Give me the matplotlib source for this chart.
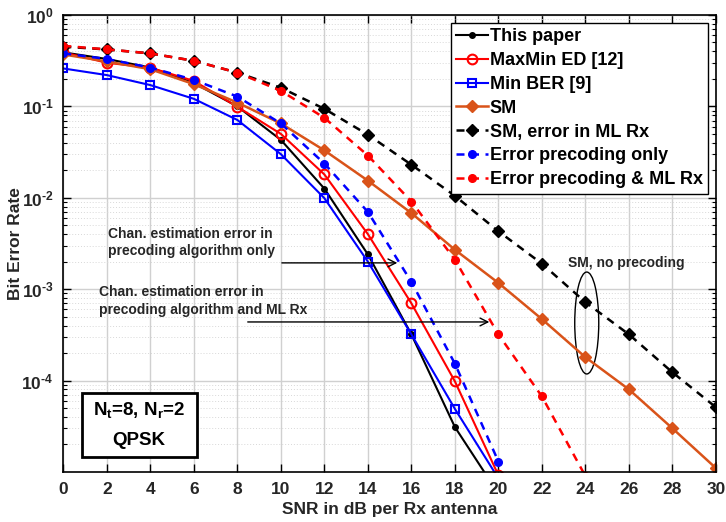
import matplotlib
matplotlib.use("Agg")
import matplotlib.pyplot as plt
import numpy as np
from matplotlib.patches import Ellipse, Rectangle
from matplotlib.ticker import LogLocator, NullFormatter

plt.rcParams['font.family'] = ['Liberation Sans', 'DejaVu Sans']
plt.rcParams['mathtext.fontset'] = 'custom'
plt.rcParams['mathtext.rm'] = 'Liberation Sans:bold'
plt.rcParams['mathtext.it'] = 'Liberation Sans:bold'
plt.rcParams['mathtext.bf'] = 'Liberation Sans:bold'

snr20 = [0, 2, 4, 6, 8, 10, 12, 14, 16, 18, 20]
snr24 = [0, 2, 4, 6, 8, 10, 12, 14, 16, 18, 20, 22, 24]
snr30 = [0, 2, 4, 6, 8, 10, 12, 14, 16, 18, 20, 22, 24, 26, 28, 30]

this_paper = [0.39, 0.33, 0.266, 0.18, 0.10, 0.043, 0.0126, 0.0024, 3.2e-4, 3.1e-5, 5.8e-6]
maxmin_ed = [0.39, 0.30, 0.265, 0.19, 0.099, 0.050, 0.018, 0.0040, 7.0e-4, 9.8e-5, 9.2e-6]
min_ber = [0.26, 0.22, 0.171, 0.121, 0.071, 0.030, 0.0099, 0.0020, 3.2e-4, 4.9e-5, 8.5e-6]
sm = [0.37, 0.31, 0.255, 0.175, 0.11, 0.065, 0.033, 0.0154, 0.0068, 0.0027, 0.00117,
      4.7e-4, 1.8e-4, 8.0e-5, 3.0e-5, 1.1e-5]
sm_err_ml = [0.45, 0.42, 0.38, 0.315, 0.234, 0.16, 0.094, 0.049, 0.023, 0.0105, 0.0043,
             0.0019, 7.2e-4, 3.2e-4, 1.23e-4, 5.1e-5]
err_prec_only = [0.38, 0.33, 0.266, 0.195, 0.128, 0.065, 0.0237, 0.0070, 0.0012, 1.53e-4, 1.3e-5]
err_prec_ml = [0.46, 0.42, 0.38, 0.315, 0.234, 0.148, 0.075, 0.029, 0.0091, 0.0021, 3.2e-4, 6.7e-5, 9e-6]

labels = ['This paper', 'MaxMin ED [12]', 'Min BER [9]', 'SM', 'SM, error in ML Rx',
          'Error precoding only', 'Error precoding & ML Rx']
ytick_vals = [1e-4, 1e-3, 1e-2, 1e-1, 1e0]
ytick_labels = ['$10^{\u20104}$', '$10^{\u20103}$', '$10^{\u20102}$', '$10^{\u20101}$', '$10^{0}$']
orange = '#D95319'

fig = plt.figure(figsize=(7.26, 5.22), dpi=100)
ax = fig.add_axes([0.0872, 0.0958, 0.8990, 0.8755])

ax.plot(snr20, this_paper, '-', color='black', lw=1.5, marker='o', ms=4, label=labels[0])
ax.plot(snr20, maxmin_ed, '-', color='red', lw=1.5, marker='o', ms=7, mfc='none', mew=1.5, label=labels[1])
ax.plot(snr20, min_ber, '-', color='blue', lw=1.5, marker='s', ms=5.5, mfc='none', mew=1.5, label=labels[2])
ax.plot(snr30, sm, '-', color=orange, lw=1.8, marker='D', ms=6, label=labels[3])
ax.plot(snr30, sm_err_ml, '--', color='black', lw=1.8, marker='D', ms=6, dashes=(3.2, 2.6), label=labels[4])
ax.plot(snr20, err_prec_only, '--', color='blue', lw=1.8, marker='o', ms=5.5, dashes=(3.2, 2.6), label=labels[5])
ax.plot(snr24, err_prec_ml, '--', color='red', lw=1.8, marker='o', ms=5.5, dashes=(3.2, 2.6), label=labels[6])

ax.set_yscale('log')
ax.set_xlim(0, 30)
ax.set_ylim(1e-5, 1)
ax.set_xticks(np.arange(0, 31, 2))
ax.set_yticks(ytick_vals)
ax.set_yticklabels(ytick_labels)
ax.yaxis.set_minor_locator(LogLocator(base=10, subs=np.arange(2, 10), numticks=20))
ax.yaxis.set_minor_formatter(NullFormatter())

ax.grid(True, which='major', color='#d0d0d0', lw=1.0, ls='-')
ax.grid(True, which='minor', axis='y', color='#d8d8d8', lw=0.7, ls=(0, (1, 2)))
ax.set_axisbelow(True)

ax.tick_params(which='both', direction='in', top=True, right=True)
ax.tick_params(which='major', length=6, width=1.0, labelsize=12.5, pad=7)
ax.tick_params(axis='y', which='major', labelsize=12.5, pad=7)
ax.tick_params(which='minor', length=3, width=0.8)
for lab in ax.get_xticklabels() + ax.get_yticklabels():
    lab.set_fontweight('bold')
    lab.set_color('#262626')
for s in ax.spines.values():
    s.set_linewidth(1.2)

ax.set_xlabel('SNR in dB per Rx antenna', fontsize=12.5, fontweight='bold', color='#262626', labelpad=4)
ax.set_ylabel('Bit Error Rate', fontsize=12.5, fontweight='bold', color='#262626')
ax.yaxis.set_label_coords(-0.061, 0.5)

leg = ax.legend(loc='upper right', bbox_to_anchor=(0.988, 0.983), borderaxespad=0,
                prop={'weight': 'bold', 'size': 13}, handlelength=1.75, handletextpad=0.12,
                labelspacing=0.38, fancybox=False, framealpha=1, edgecolor='black',
                borderpad=0.3)
leg.get_frame().set_linewidth(1.0)

# annotations
ax.text(0.0685, 0.502, 'Chan. estimation error in\nprecoding algorithm only', transform=ax.transAxes,
        fontsize=10, fontweight='bold', color='#262626', va='center', ha='left', linespacing=1.35)
ax.text(0.055, 0.375, 'Chan. estimation error in\nprecoding algorithm and ML Rx', transform=ax.transAxes,
        fontsize=10, fontweight='bold', color='#262626', va='center', ha='left', linespacing=1.35)
ax.annotate('', xy=(15.48, 1.94e-3), xytext=(9.92, 1.94e-3),
            arrowprops=dict(arrowstyle='->', color='black', lw=1.0, mutation_scale=14))
ax.annotate('', xy=(19.71, 4.38e-4), xytext=(8.35, 4.38e-4),
            arrowprops=dict(arrowstyle='->', color='black', lw=1.0, mutation_scale=14))
ax.text(23.2, 1.94e-3, 'SM, no precoding', fontsize=10, fontweight='bold', color='#262626',
        va='center', ha='left')
ax.add_patch(Ellipse((0.802, 0.326), 0.0368, 0.223, transform=ax.transAxes,
                     fill=False, edgecolor='black', lw=1.0))

# parameter box
ax.add_patch(Rectangle((0.0282, 0.0328), 0.1762, 0.1402, transform=ax.transAxes,
                       fill=True, facecolor='white', edgecolor='black', lw=2.0, zorder=5))
ax.text(0.1163, 0.135, r'N$_\mathbf{t}$=8, N$_\mathbf{r}$=2', transform=ax.transAxes, fontsize=13.5,
        fontweight='bold', ha='center', va='center', zorder=6)
ax.text(0.1163, 0.070, 'QPSK', transform=ax.transAxes, fontsize=13.5,
        fontweight='bold', ha='center', va='center', zorder=6)

fig.savefig('out.png', dpi=100)
